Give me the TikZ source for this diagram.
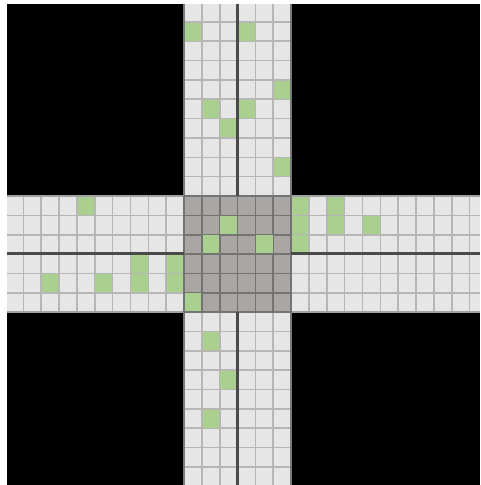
\documentclass[tikz,border=0pt]{standalone}
\definecolor{cellc}{HTML}{E6E6E6}
\definecolor{gridc}{HTML}{B8B6B5}
\definecolor{edgec}{HTML}{7A7A7A}
\definecolor{hedgec}{HTML}{A2A2A2}
\definecolor{corec}{HTML}{AAA6A4}
\definecolor{coregrid}{HTML}{737373}
\definecolor{greenc}{HTML}{AAD08F}
\definecolor{axisc}{HTML}{4A4A4A}
\tikzset{
  armgrid/.style={draw=gridc,line width=1.6pt},
  coreline/.style={draw=coregrid,line width=1.6pt},
  armedge/.style={draw=edgec,line width=1.6pt},
  hedge/.style={draw=hedgec,line width=1.6pt},
  laneaxis/.style={draw=axisc,line width=2.6pt},
  occupied/.style={fill=greenc}
}
\newcommand{\greencell}[2]{\fill[occupied] ({184+17.85*(#1)+0.7},{196+19.35*(#2)+0.7}) rectangle ({184+17.85*(#1+1)-0.7},{196+19.35*(#2+1)-0.7});}
\begin{document}
\begin{tikzpicture}[x=1pt,y=-1pt]
\useasboundingbox (0,0) rectangle (480,485);
\clip (0,0) rectangle (480,485);
\fill[white] (0,0) rectangle (480,485);
\fill[black] (7,4) rectangle (480,485);
% arms
\fill[cellc] (7,196) rectangle (480,312.1);
\fill[cellc] (184,4) rectangle (291.1,485);
% core
\fill[corec] (184,196) rectangle (291.1,312.1);
% horizontal arm grid
\foreach \c in {-9,...,-1,7,8,...,16}{
  \draw[armgrid] ({184+17.85*\c},196) -- ({184+17.85*\c},312.1);}
\foreach \r in {1,2,4,5}{
  \draw[armgrid] (7,{196+19.35*\r}) -- (184,{196+19.35*\r});
  \draw[armgrid] (291.1,{196+19.35*\r}) -- (480,{196+19.35*\r});}
% vertical arm grid
\foreach \c in {1,2,4,5}{
  \draw[armgrid] ({184+17.85*\c},4) -- ({184+17.85*\c},196);
  \draw[armgrid] ({184+17.85*\c},312.1) -- ({184+17.85*\c},485);}
\foreach \r in {-9,...,-1,7,8,...,14}{
  \draw[armgrid] (184,{196+19.35*\r}) -- (291.1,{196+19.35*\r});}
% arm edges
\draw[hedge] (7,196) -- (184,196) (291.1,196) -- (480,196);
\draw[hedge] (7,312.1) -- (184,312.1) (291.1,312.1) -- (480,312.1);
\draw[armedge] (184,4) -- (184,485) (291.1,4) -- (291.1,485);
% core grid
\foreach \i in {0,...,6}{
  \draw[coreline] ({184+17.85*\i},196) -- ({184+17.85*\i},312.1);
  \draw[coreline] (184,{196+19.35*\i}) -- (291.1,{196+19.35*\i});}
% green cells
\foreach \c/\r in {-6/0,-3/3,-1/3,-8/4,-5/4,-3/4,-1/4,
  6/0,8/0,6/1,8/1,10/1,6/2,
  0/-9,3/-9,5/-6,1/-5,3/-5,2/-4,5/-2,
  1/7,2/9,1/11,
  2/1,1/2,4/2,0/5}{\greencell{\c}{\r}}
% lane axes
\draw[laneaxis] (237.4,4) -- (237.4,196) (237.4,312.1) -- (237.4,485);
\draw[laneaxis] (7,253.6) -- (184,253.6) (291.1,253.6) -- (480,253.6);
\end{tikzpicture}
\end{document}
